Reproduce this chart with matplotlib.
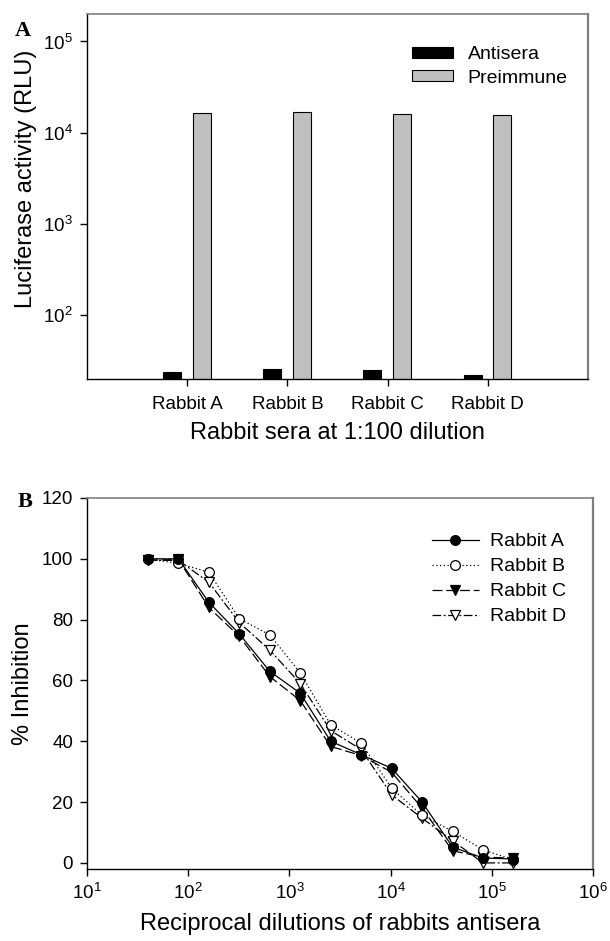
import matplotlib
matplotlib.use("Agg")
import matplotlib.pyplot as plt
import numpy as np
from matplotlib.ticker import LogFormatterSciNotation, FixedLocator, NullLocator

plt.rcParams['font.family'] = ['Liberation Sans', 'DejaVu Sans']
plt.rcParams['mathtext.fontset'] = 'custom'
plt.rcParams['mathtext.rm'] = 'Liberation Sans'
plt.rcParams['mathtext.it'] = 'Liberation Sans'
plt.rcParams['mathtext.default'] = 'regular'

# ---------------- Data ----------------
rabbits = ["Rabbit A", "Rabbit B", "Rabbit C", "Rabbit D"]
antisera = [24, 26, 25, 22]
preimmune = [16400, 16900, 16000, 15600]

dilutions = [40, 80, 160, 320, 640, 1280, 2560, 5120, 10240, 20480, 40960, 81920, 163840]
rabbit_a = [100, 100, 85.7, 75.3, 63, 55.8, 40, 35.6, 31.1, 20, 5.2, 1.6, 1.3]
rabbit_b = [100, 98.5, 95.6, 80.3, 75, 62.5, 45.4, 39.4, 24.6, 15.6, 10.4, 4.3, 1.0]
rabbit_c = [99.5, 99.8, 84, 74.5, 61.3, 53.4, 38.3, 35.3, 29.8, 18, 4, 1.9, 1.6]
rabbit_d = [99.5, 99.5, 92.3, 79, 70, 59, 43.5, 37.3, 22.4, 14.7, 7.3, 0, 0]

W, H = 610, 941
fig = plt.figure(figsize=(W / 100, H / 100), dpi=100)

def frac(l, t, r, b):
    return [l / W, 1 - b / H, (r - l) / W, (b - t) / H]

TICK_FS = 13.5
LEG_FS = 14
LABEL_FS = 17
GREY = '#7f7f7f'

def style_spines(ax):
    ax.spines['left'].set_color('black')
    ax.spines['bottom'].set_color('black')
    ax.spines['left'].set_linewidth(1.0)
    ax.spines['bottom'].set_linewidth(1.0)
    ax.spines['top'].set_color(GREY)
    ax.spines['right'].set_color(GREY)
    ax.spines['top'].set_linewidth(1.2)
    ax.spines['right'].set_linewidth(1.6)

# ---------------- Panel A ----------------
axA = fig.add_axes(frac(87, 14, 588, 379))
x = np.arange(1, len(rabbits) + 1)
bw = 0.18
axA.bar(x - 0.152, antisera, width=bw, color='black', edgecolor='black',
        linewidth=0.8, label='Antisera')
axA.bar(x + 0.145, preimmune, width=bw, color='#c0c0c0', edgecolor='black',
        linewidth=0.8, label='Preimmune')
axA.set_yscale('log')
axA.set_ylim(20, 2e5)
axA.set_xlim(0, 5)
axA.yaxis.set_major_locator(FixedLocator([1e2, 1e3, 1e4, 1e5]))
axA.yaxis.set_major_formatter(LogFormatterSciNotation())
axA.yaxis.set_minor_locator(NullLocator())
axA.set_xticks(x)
axA.set_xticklabels(rabbits)
axA.tick_params(axis='both', direction='out', length=5, width=1, labelsize=TICK_FS)
axA.tick_params(axis='x', pad=7)
axA.tick_params(axis='y', pad=5)
axA.set_ylabel("Luciferase activity (RLU)", fontsize=LABEL_FS)
axA.set_xlabel("Rabbit sera at 1:100 dilution", fontsize=LABEL_FS)
axA.yaxis.set_label_coords(-0.100, 0.548)
axA.xaxis.set_label_coords(0.5, -0.118)
style_spines(axA)
axA.legend(loc='upper left', bbox_to_anchor=(0.649, 0.912), frameon=False,
           fontsize=LEG_FS, handlelength=2.1, handleheight=0.5,
           handletextpad=0.75, labelspacing=0.33, borderpad=0, borderaxespad=0)

# ---------------- Panel B ----------------
axB = fig.add_axes(frac(87, 498, 593, 869))
lw = 0.9
ms = 7
axB.plot(dilutions, rabbit_d, color='black', lw=lw, dashes=(7, 2, 1.5, 2),
         marker='v', ms=ms, mfc='white', mec='black', mew=0.9, label='Rabbit D')
axB.plot(dilutions, rabbit_c, color='black', lw=lw, dashes=(8, 3),
         marker='v', ms=ms, mfc='black', mec='black', mew=0.9, label='Rabbit C')
axB.plot(dilutions, rabbit_b, color='black', lw=lw, linestyle=(0, (1, 2)),
         marker='o', ms=ms, mfc='white', mec='black', mew=0.9, label='Rabbit B')
axB.plot(dilutions, rabbit_a, color='black', lw=lw, linestyle='-',
         marker='o', ms=ms, mfc='black', mec='black', mew=0.9, label='Rabbit A')
axB.set_xscale('log')
axB.set_xlim(10, 1e6)
axB.set_ylim(-2, 120)
axB.xaxis.set_major_locator(FixedLocator([1e1, 1e2, 1e3, 1e4, 1e5, 1e6]))
axB.xaxis.set_major_formatter(LogFormatterSciNotation())
axB.xaxis.set_minor_locator(NullLocator())
axB.set_yticks([0, 20, 40, 60, 80, 100, 120])
axB.tick_params(axis='both', direction='out', length=5, width=1, labelsize=TICK_FS)
axB.tick_params(axis='x', pad=5)
axB.tick_params(axis='y', pad=5)
axB.set_ylabel("% Inhibition", fontsize=LABEL_FS)
axB.set_xlabel("Reciprocal dilutions of rabbits antisera", fontsize=LABEL_FS)
axB.yaxis.set_label_coords(-0.105, 0.5)
axB.xaxis.set_label_coords(0.5, -0.118)
style_spines(axB)
handles, labels = axB.get_legend_handles_labels()
order = [3, 2, 1, 0]
axB.legend([handles[i] for i in order], [labels[i] for i in order],
           loc='upper left', bbox_to_anchor=(0.682, 0.906), frameon=False,
           fontsize=LEG_FS, handlelength=2.4, handletextpad=0.6,
           labelspacing=0.38, borderpad=0, borderaxespad=0)

# Panel letters
fig.text(15 / W, 1 - 36 / H, "A", fontsize=16, fontweight='bold',
         family='Liberation Serif', va='baseline', ha='left')
fig.text(18 / W, 1 - 507 / H, "B", fontsize=16, fontweight='bold',
         family='Liberation Serif', va='baseline', ha='left')

fig.savefig("out.png", dpi=100)
